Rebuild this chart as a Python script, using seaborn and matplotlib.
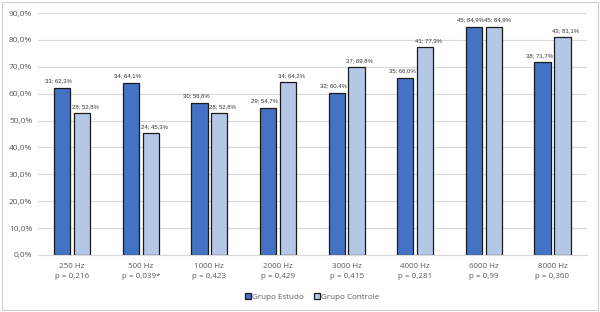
import matplotlib
matplotlib.use("Agg")
import matplotlib.pyplot as plt
import seaborn as sns
import pandas as pd
from matplotlib.patches import Rectangle

freqs = ["250 Hz", "500 Hz", "1000 Hz", "2000 Hz", "3000 Hz", "4000 Hz", "6000 Hz", "8000 Hz"]
pvals = ["p = 0,216", "p = 0,039*", "p = 0,423", "p = 0,429", "p = 0,415", "p = 0,281", "p = 0,99", "p = 0,360"]
estudo_n = [33, 34, 30, 29, 32, 35, 45, 38]
estudo_pct = [62.3, 64.1, 56.6, 54.7, 60.4, 66.0, 84.9, 71.7]
controle_n = [28, 24, 28, 34, 37, 41, 45, 43]
controle_pct = [52.8, 45.3, 52.8, 64.2, 69.8, 77.3, 84.9, 81.1]
groups = ["Grupo Estudo", "Grupo Controle"]
colors = ["#4472C4", "#B4C7E7"]

cats = [f"{f}\n{p}" for f, p in zip(freqs, pvals)]
df = pd.DataFrame({
    "cat": cats * 2,
    "grupo": [groups[0]] * 8 + [groups[1]] * 8,
    "pct": estudo_pct + controle_pct,
    "n": estudo_n + controle_n,
})

sns.set_theme(style="white")
plt.rcParams['font.family'] = ['Open Sans', 'DejaVu Sans']

fig = plt.figure(figsize=(6, 3.12), dpi=100)
ax = fig.add_axes([0.063, 0.183, 0.915, 0.775])
sns.barplot(data=df, x="cat", y="pct", hue="grupo", palette=colors, ax=ax,
            width=0.58, edgecolor="#1a1a1a", linewidth=0.9, saturation=1, legend=True)

# shrink bars slightly to leave a gap inside each pair
for cont in ax.containers:
    for bar in cont:
        w = bar.get_width()
        new_w = w * 0.82
        bar.set_x(bar.get_x() + (w - new_w) / 2)
        bar.set_width(new_w)

for cont, ns, ps, dx in zip(ax.containers, [estudo_n, controle_n], [estudo_pct, controle_pct], [-2.4, 2.4]):
    labels = [f"{n}; {p:.1f}%".replace('.', ',') for n, p in zip(ns, ps)]
    anns = ax.bar_label(cont, labels=labels, padding=3, fontsize=4.3, color="#333333",
                        family=['Liberation Sans', 'DejaVu Sans'])
    for a in anns:
        a.xyann = (dx, a.xyann[1])

ax.set_ylim(0, 90)
ax.set_xlim(-0.5, 7.5)
ax.set_yticks(range(0, 91, 10))
ax.set_yticklabels([f"{v},0%" for v in range(0, 91, 10)], fontsize=6, color="#595959")
ax.tick_params(axis="x", labelsize=5.8, labelcolor="#595959", length=0, pad=6)
for t in ax.get_xticklabels():
    t.set_linespacing(1.5)
ax.tick_params(axis="y", length=0, pad=4)
ax.yaxis.grid(True, color="#d9d9d9", linewidth=0.8)
ax.set_axisbelow(True)
for s in ["top", "right", "left"]:
    ax.spines[s].set_visible(False)
ax.spines["bottom"].set_color("#d9d9d9")
ax.spines["bottom"].set_linewidth(0.8)
ax.set_xlabel("")
ax.set_ylabel("")

leg = ax.legend(loc="center", bbox_to_anchor=(0.5, -0.175), ncol=2, frameon=False,
                fontsize=5.8, handlelength=0.7, handleheight=0.7, handletextpad=0.2,
                columnspacing=1.2, labelcolor="#595959")

fig.patches.append(Rectangle((0.003, 0.005), 0.994, 0.99, transform=fig.transFigure,
                             fill=False, edgecolor="#d0d0d0", linewidth=0.8))
fig.savefig("out.png", dpi=100)
